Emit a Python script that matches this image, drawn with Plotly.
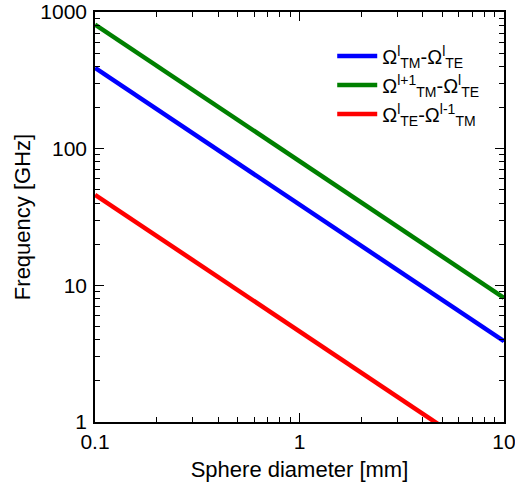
import plotly.graph_objects as go

diameter_mm = [0.1, 10]
blue_tm_te = [390, 3.9]
green_tm1_te = [810, 8.1]
red_te_tm1 = [46, 0.46]

names = [
    "Ω<sup>l</sup><sub>TM</sub>-Ω<sup>l</sup><sub>TE</sub>",
    "Ω<sup>l+1</sup><sub>TM</sub>-Ω<sup>l</sup><sub>TE</sub>",
    "Ω<sup>l</sup><sub>TE</sub>-Ω<sup>l-1</sup><sub>TM</sub>",
]
series = [blue_tm_te, green_tm1_te, red_te_tm1]
colors = ["#0000FF", "#008000", "#FF0000"]

fig = go.Figure()
for n, s, c in zip(names, series, colors):
    fig.add_trace(go.Scatter(x=diameter_mm, y=s, mode="lines", name=n,
                             line=dict(color=c, width=4.5)))

font = "Liberation Sans, Arial, sans-serif"
axis_common = dict(
    type="log", showgrid=False, zeroline=False, showline=True,
    linecolor="black", linewidth=1.5, mirror="ticks",
    ticks="inside", ticklen=9, tickwidth=1, tickcolor="black",
    dtick=1, exponentformat="none", automargin=False,
    ticklabeloverflow="allow",
    minor=dict(ticks="inside", ticklen=5, tickcolor="black", tickwidth=1, dtick="D1"),
    tickfont=dict(size=21, color="black", family=font),
)
fig.update_xaxes(range=[-1, 1], ticklabelstandoff=0,
                 title=dict(text="Sphere diameter [mm]", font=dict(size=22, family=font, color="black"), standoff=10),
                 **axis_common)
fig.update_yaxes(range=[0, 3], ticklabelstandoff=2,
                 title=dict(text="Frequency [GHz]", font=dict(size=22, family=font, color="black"), standoff=4),
                 **axis_common)

fig.update_layout(
    width=515, height=487,
    margin=dict(l=95, r=11, t=12, b=65),
    plot_bgcolor="white", paper_bgcolor="white",
    font=dict(family=font, color="black"),
    legend=dict(x=0.58, y=0.94, xanchor="left", yanchor="top",
                bgcolor="rgba(0,0,0,0)", borderwidth=0,
                font=dict(size=20, family=font, color="black"),
                itemwidth=40, tracegroupgap=0),
    showlegend=True,
)

fig.write_html("out.html")
